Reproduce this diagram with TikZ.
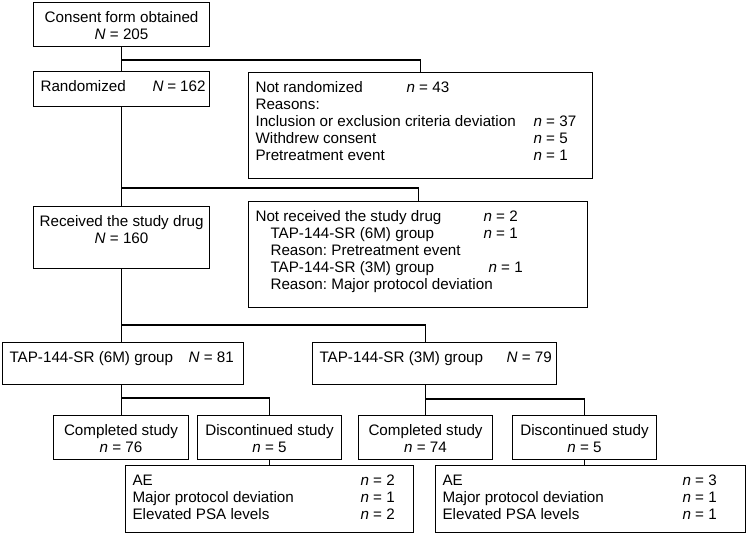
\documentclass[tikz,border=0pt]{standalone}
\usepackage{fontspec}
\setmainfont{Liberation Sans}
\usepackage{tikz}
\frenchspacing

% text block of a box: width and height of the box in pt
\newcommand{\boxin}[3]{\parbox[t][\dimexpr#2pt-18pt\relax][t]{\dimexpr#1pt-8pt\relax}{\leftskip=3pt\relax #3}}
\newcommand{\Nv}[1]{\textit{N} = #1}
\newcommand{\nv}[1]{\textit{n} = #1}
\newcommand{\col}[2]{\makebox[#1pt][l]{#2}}

\begin{document}
\begin{tikzpicture}[
    x=1pt, y=-1pt,
    box/.style={draw, line width=1.1pt, anchor=north west, inner xsep=4pt, inner ysep=9pt,
      font=\fontsize{15.2pt}{17pt}\selectfont},
    conn/.style={draw, line width=1.1pt},
  ]
  \useasboundingbox (0,0) rectangle (750,534);

  \node[box] (consent) at (33,2)    {\boxin{176}{44}{\centering Consent form obtained\\ \Nv{205}}};
  \node[box] (rand)    at (33,71)   {\boxin{176}{35}{\col{112}{Randomized}\Nv{162}}};
  \node[box] (notrand) at (248,72)  {\boxin{344}{106}{%
      \col{151}{Not randomized}\nv{43}\\
      Reasons:\\
      \col{278}{Inclusion or exclusion criteria deviation}\nv{37}\\
      \col{278}{Withdrew consent}\nv{5}\\
      \col{278}{Pretreatment event}\nv{1}}};
  \node[box] (recv)    at (33,206)  {\boxin{176}{62}{\centering Received the study drug\\ \Nv{160}}};
  \node[box] (notrecv) at (248,201) {\boxin{339}{106}{%
      \col{228}{Not received the study drug}\nv{2}\\
      \hspace*{15pt}\col{213}{TAP-144-SR (6M) group}\nv{1}\\
      \hspace*{15pt}Reason: Pretreatment event\\
      \hspace*{15pt}\col{218}{TAP-144-SR (3M) group}\nv{1}\\
      \hspace*{15pt}Reason: Major protocol deviation}};

  \node[box] (g6) at (2,342)   {\boxin{241}{42}{\col{179}{TAP-144-SR (6M) group}\Nv{81}}};
  \node[box] (g3) at (312,342) {\boxin{244}{42}{\col{187}{TAP-144-SR (3M) group}\Nv{79}}};

  \foreach \nm/\x/\w/\lab/\val in {c6/53/135/Completed/76, d6/197/144/Discontinued/5,
                                   c3/358/134/Completed/74, d3/512/144/Discontinued/5}
    \node[box] (\nm) at (\x,415) {\boxin{\w}{44}{\centering \lab\ study\\ \nv{\val}}};

  \node[box] (r6) at (125,465) {\boxin{288}{67}{%
      \col{228}{AE}\nv{2}\\
      \col{228}{Major protocol deviation}\nv{1}\\
      \col{228}{Elevated PSA levels}\nv{2}}};
  \node[box] (r3) at (435,465) {\boxin{310}{67}{%
      \col{240}{AE}\nv{3}\\
      \col{240}{Major protocol deviation}\nv{1}\\
      \col{240}{Elevated PSA levels}\nv{1}}};

  % main line
  \draw[conn] (consent.south) -- (rand.north);
  \draw[conn] (consent.south |- 0,60) -| (notrand.north);
  \draw[conn] (rand.south) -- (recv.north);
  \draw[conn] (rand.south |- 0,188) -| (notrecv.north);
  \draw[conn] (recv.south) -- (recv.south |- g6.north);
  \draw[conn] (recv.south |- 0,325) -| (c3.north |- g3.north);

  % groups
  \draw[conn] (c6.north |- g6.south) -- (c6.north);
  \draw[conn] (c6.north |- 0,398) -| (d6.north);
  \draw[conn] (d6.south) -- (d6.south |- r6.north);
  \draw[conn] (c3.north |- g3.south) -- (c3.north);
  \draw[conn] (c3.north |- 0,399) -| (d3.north);
  \draw[conn] (d3.south) -- (d3.south |- r3.north);
\end{tikzpicture}
\end{document}
